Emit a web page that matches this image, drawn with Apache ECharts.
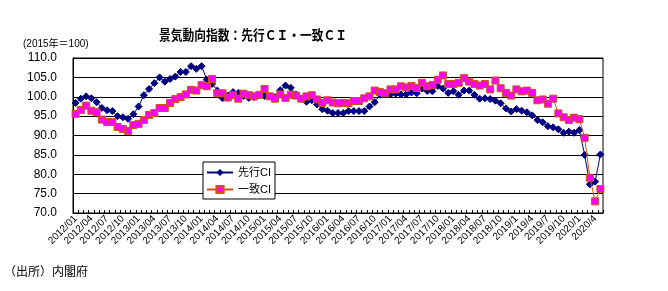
<!DOCTYPE html>
<html><head><meta charset="utf-8">
<script src="https://cdn.jsdelivr.net/npm/echarts@6/dist/echarts.min.js"></script>
<style>html,body{margin:0;padding:0;background:#fff}#c{width:668px;height:291px}</style>
</head><body><div id="c"></div>
<script>
// months 2012/01 .. 2020/05
const categories = [];
for (let y = 2012; y <= 2020; y++) {
  for (let m = 1; m <= 12; m++) {
    if (y === 2020 && m > 5) break;
    categories.push(y >= 2019 ? y + '/' + m : y + '/' + String(m).padStart(2, '0'));
  }
}
const leadingCI = [
98.4,99.5,100.1,99.6,98.6,97.1,96.5,96.3,95.0,94.7,94.3,95.5,
97.5,100.4,102.0,103.5,105.0,103.9,104.6,105.2,106.4,106.4,107.9,107.2,
107.9,104.4,103.3,101.6,99.6,100.3,101.2,101.0,100.2,99.7,99.9,100.4,
100.2,100.1,99.9,101.7,102.9,102.3,100.6,99.5,98.7,99.1,98.0,96.8,
96.4,95.8,95.8,95.8,96.3,96.3,96.3,96.3,97.5,98.6,100.5,100.6,
100.6,100.8,100.6,100.6,101.1,100.9,102.1,101.5,101.4,102.8,102.1,101.0,
101.4,100.5,101.6,101.6,100.5,99.5,99.6,99.4,99.0,98.3,97.0,96.2,
96.8,96.4,96.0,95.2,94.0,93.4,92.4,92.1,91.6,90.7,91.0,90.7,
91.4,85.0,77.4,78.1,85.1
];
const coincidentCI = [
95.6,96.6,97.7,96.4,96.0,94.1,93.5,93.5,92.2,91.7,91.2,92.7,
93.0,94.0,95.3,95.8,97.1,97.1,98.4,99.4,99.9,100.6,101.8,101.6,
103.0,102.7,104.6,100.9,100.9,99.8,100.4,99.5,100.8,100.4,100.1,100.5,
102.0,100.1,99.5,100.6,99.7,100.5,100.3,99.5,100.1,100.4,99.3,98.4,
99.1,98.5,98.3,98.4,98.3,98.9,98.9,99.6,100.1,101.6,101.2,100.9,
101.9,101.9,102.7,102.4,102.8,102.3,103.6,102.7,103.0,104.4,105.5,103.3,
103.3,103.6,104.8,103.9,103.3,102.9,103.3,101.9,104.2,102.2,101.0,100.3,
101.9,101.4,101.6,101.0,99.1,99.3,98.2,99.5,95.7,94.7,94.0,94.6,
94.2,89.4,79.1,73.0,76.2
];
const seriesNames = ['先行CI', '一致CI'];
const titleText = '景気動向指数：先行ＣＩ・一致ＣＩ';
const unitText = '(2015年＝100)';
const sourceText = '（出所）内閣府';

const FONT = '"Liberation Sans", "Noto Sans CJK JP", sans-serif';
const chart = echarts.init(document.getElementById('c'), null, {renderer: 'canvas'});
chart.setOption({
  animation: false,
  backgroundColor: '#fff',
  textStyle: {fontFamily: FONT},
  graphic: [
    {type: 'text', x: 159, y: 28, scaleX: 0.87, style: {text: titleText, font: 'bold 13.5px "Noto Sans CJK JP", sans-serif', fill: '#000'}},
    {type: 'text', left: 23, top: 39, style: {text: unitText, font: '10px "Liberation Sans", "Noto Sans CJK JP", sans-serif', fill: '#000'}},
    {type: 'text', left: 4, top: 265, style: {text: sourceText, font: '12px "Noto Sans CJK JP", sans-serif', fill: '#000'}}
  ],
  grid: {left: 73, right: 65, top: 58, bottom: 78, show: true, borderColor: '#000', borderWidth: 1, backgroundColor: 'transparent'},
  legend: {
    orient: 'vertical', left: 203, top: 162,
    backgroundColor: '#fff', borderColor: '#000', borderWidth: 1,
    padding: [5, 4, 4, 3], itemGap: 6, itemWidth: 26, itemHeight: 9,
    textStyle: {fontSize: 11, color: '#000', fontFamily: FONT},
    data: seriesNames
  },
  xAxis: {
    type: 'category', data: categories, boundaryGap: true,
    axisLine: {lineStyle: {color: '#000', width: 1}},
    axisTick: {show: true, inside: true, interval: 0, length: 3, lineStyle: {color: '#000'}},
    axisLabel: {interval: 2, rotate: 45, fontSize: 10, color: '#000', margin: 4, fontFamily: FONT},
    splitLine: {show: false}
  },
  yAxis: {
    type: 'value', min: 70, max: 110, interval: 5,
    axisLine: {show: true, lineStyle: {color: '#000'}},
    axisTick: {show: false},
    axisLabel: {fontSize: 12, color: '#000', margin: 16, formatter: v => v.toFixed(1), fontFamily: FONT},
    splitLine: {show: true, lineStyle: {color: '#000', width: 1}}
  },
  series: [
    {
      name: seriesNames[0], type: 'line', data: leadingCI,
      symbol: 'diamond', symbolSize: 7, showSymbol: true, showAllSymbol: true,
      lineStyle: {color: '#000080', width: 1},
      itemStyle: {color: '#000080', borderColor: '#000080'},
      z: 3
    },
    {
      name: seriesNames[1], type: 'line', data: coincidentCI,
      symbol: 'rect', symbolSize: 7, showSymbol: true, showAllSymbol: true,
      lineStyle: {color: '#CC5511', width: 1},
      itemStyle: {color: '#FF00FF', borderColor: '#CC5511', borderWidth: 1},
      z: 4
    }
  ]
});
</script></body></html>
